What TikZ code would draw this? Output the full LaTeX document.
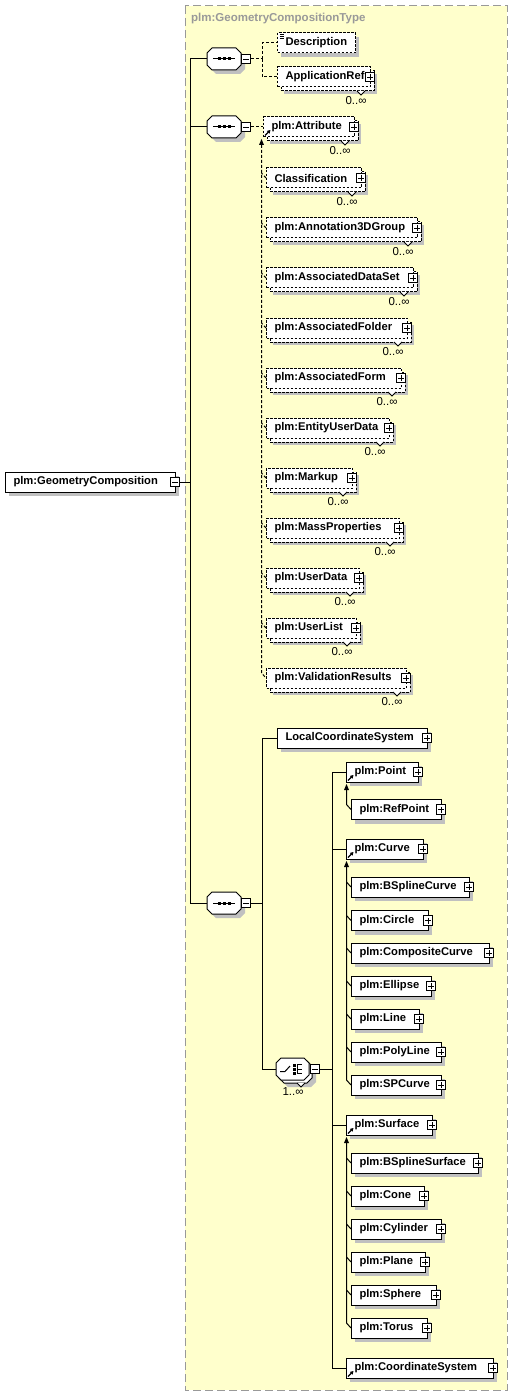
\documentclass[tikz,border=0pt]{standalone}
\usepackage{fontspec}
\setmainfont{Liberation Sans}
\usetikzlibrary{arrows.meta}
\definecolor{typebg}{HTML}{FFFFCC}
\definecolor{typeborder}{HTML}{999999}
\definecolor{shadowc}{HTML}{C0C0C0}
\definecolor{titlec}{HTML}{999999}
\tikzset{
 every node/.style={font=\fontsize{11}{13}\selectfont},
 elbox/.style={draw, fill=white, line width=1pt, minimum height=20pt, inner sep=0pt, anchor=west, font=\fontsize{11.2}{13}\selectfont\bfseries},
 optb/.style={dash pattern=on 2.5pt off 1.5pt},
 conn/.style={line width=1pt},
 dconn/.style={line width=1pt, dash pattern=on 3pt off 2pt},
 occ/.style={font=\fontsize{11.5}{13}\selectfont, inner sep=0pt},
 pm/.style={draw, fill=white, line width=0.8pt, minimum size=9.5pt, inner sep=0pt},
 anchorbox/.style={inner sep=0pt, draw=none},
}
\newcommand\oct[2]{(#1+5,#2-11) -- (#1+29,#2-11) -- (#1+34,#2-6) -- (#1+34,#2+6) -- (#1+29,#2+11) -- (#1+5,#2+11) -- (#1,#2+6) -- (#1,#2-6) -- cycle}
\newcommand\octc[2]{(#1+5,#2-11) -- (#1+28,#2-11) -- (#1+33,#2-6) -- (#1+33,#2+6) -- (#1+28,#2+11) -- (#1+5,#2+11) -- (#1,#2+6) -- (#1,#2-6) -- cycle}
% plus box: name, x, y
\newcommand\plusbx[3]{%
 \node[pm] (#1) at (#2,#3) {};
 \draw[line width=0.9pt] (#2-3,#3) -- (#2+3,#3) (#2,#3-3) -- (#2,#3+3);}
\newcommand\minusbx[3]{%
 \node[pm] (#1) at (#2,#3) {};
 \draw[line width=0.9pt] (#2-3,#3) -- (#2+3,#3);}
% single element: name, x1, yc, w, text, style
\newcommand\ElemS[6]{%
 \fill[shadowc] (#2+4,#3-6) rectangle (#2+#4+4,#3+14);
 \node[elbox,#6,minimum width=#4pt] (#1) at (#2,#3) {\hbox to #4pt{\hskip8pt #5\hss}};
 \plusbx{#1p}{#2+#4}{#3}}
% multiple element: name, x1, yc, w, text, style, occurrence label
\newcommand\ElemM[7]{%
 \fill[shadowc] (#2+7,#3-3) rectangle (#2+#4+7,#3+17);
 \draw[fill=white,line width=1pt,#6] (#2+4,#3-6) rectangle (#2+#4+4,#3+14);
 \draw[fill=white,line width=0.8pt] (#2+#4-13,#3+14) -- (#2+#4-9,#3+18) -- (#2+#4-5,#3+14);
 \node[elbox,#6,minimum width=#4pt] (#1) at (#2,#3) {\hbox to #4pt{\hskip8pt #5\hss}};
 \plusbx{#1p}{#2+#4}{#3}
 \node[occ] (#1o) at (#2+#4-14,#3+24) {#7};}
\newcommand\headicon[2]{\draw[line width=1.1pt,-{Triangle[length=3.2pt,width=3.6pt]}] (#1+2,#2+8.5) -- (#1+7.5,#2+3);}
% sequence: name, x, yc
\newcommand\Seq[3]{%
 \fill[shadowc,shift={(4,4)}] \oct{#2}{#3};
 \draw[fill=white,line width=1pt] \oct{#2}{#3};
 \node[anchorbox,minimum width=34pt,minimum height=22pt] (#1) at (#2+17,#3) {};
 \draw[line width=1pt] (#2+6,#3) -- (#2+28,#3);
 \fill (#2+10.5,#3-1.5) rectangle ++(3,3);
 \fill (#2+15.5,#3-1.5) rectangle ++(3,3);
 \fill (#2+20.5,#3-1.5) rectangle ++(3,3);
 \minusbx{#1m}{#2+39}{#3}}
% choice (stacked): name, x, yc
\newcommand\Choice[3]{%
 \fill[shadowc,shift={(7,7)}] \octc{#2}{#3};
 \draw[fill=white,line width=1pt,shift={(3,3)}] \octc{#2}{#3};
 \draw[fill=white,line width=0.8pt] (#2+21,#3+14) -- (#2+25,#3+18) -- (#2+29,#3+14);
 \draw[fill=white,line width=1pt] \octc{#2}{#3};
 \node[anchorbox,minimum width=33pt,minimum height=22pt] (#1) at (#2+16.5,#3) {};
 \draw[line width=1pt] (#2+4,#3+2.5) -- (#2+9,#3+2.5) -- (#2+14,#3-3);
 \fill (#2+16.5,#3-5.5) rectangle ++(3,3);
 \fill (#2+16.5,#3-1.5) rectangle ++(3,3);
 \fill (#2+16.5,#3+2.5) rectangle ++(3,3);
 \draw[line width=1pt] (#2+21,#3-5) -- (#2+21,#3+5);
 \draw[line width=1pt] (#2+21,#3-4.5) -- (#2+26,#3-4.5) (#2+21,#3) -- (#2+26,#3) (#2+21,#3+4.5) -- (#2+26,#3+4.5);
 \minusbx{#1m}{#2+39}{#3}}
\begin{document}
\begin{tikzpicture}[x=1pt,y=-1pt]
\useasboundingbox (0,0) rectangle (514,1396);
% complex type frame
\draw[fill=typebg, draw=typeborder, line width=1pt, dash pattern=on 8pt off 4pt] (185,6) rectangle (507,1390);
\node[anchor=west, text=titlec, inner sep=0pt, font=\fontsize{11.5}{13}\selectfont\bfseries] (title) at (191,19) {plm:GeometryCompositionType};
% root
\fill[shadowc] (9,476) rectangle (179,496);
\node[elbox, minimum width=170pt] (root) at (5,482) {\hbox to 170pt{\hskip8pt plm:GeometryComposition\hss}};
\minusbx{rootm}{175}{482}
% sequences
\Seq{seqA}{207}{59}
\Seq{seqB}{207}{127}
\Seq{seqC}{207}{903}
\coordinate (bus) at (190,482);
\draw[conn] (rootm.east) -- (bus);
\draw[conn] (seqA.west) -| (bus);
\draw[conn] (seqB.west) -| (bus);
\draw[conn] (seqC.west) -| (bus);
% sequence A children
\fill[shadowc] (281,37) rectangle (359,57);
\node[elbox,optb,minimum width=78pt] (desc) at (277,43) {\hbox to 78pt{\hskip8pt Description\hss}};
\draw[line width=0.7pt] (279.5,34) -- (283.5,34) (279.5,36) -- (283.5,36) (279.5,38) -- (283.5,38);
\ElemM{appref}{277}{77}{93}{ApplicationRef}{optb}{0..∞}
\coordinate (jA) at (262,59);
\draw[dconn] (seqAm.east) -- (jA);
\draw[dconn] (jA) |- (desc.west);
\draw[dconn] (jA) |- (appref.west);
% sequence B: substitution group plm:Attribute
\ElemM{attr}{263}{127}{91}{plm:Attribute}{optb}{0..∞}
\headicon{263}{127}
\draw[dconn] (seqBm.east) -- (attr.west);
\ElemM{cls}{266}{178}{95}{Classification}{optb}{0..∞}
\ElemM{ann}{266}{228}{151}{plm:Annotation3DGroup}{optb}{0..∞}
\ElemM{ads}{266}{278}{147}{plm:AssociatedDataSet}{optb}{0..∞}
\ElemM{afo}{266}{328}{141}{plm:AssociatedFolder}{optb}{0..∞}
\ElemM{afm}{266}{378}{135}{plm:AssociatedForm}{optb}{0..∞}
\ElemM{eud}{266}{428}{123}{plm:EntityUserData}{optb}{0..∞}
\ElemM{mku}{266}{478}{86}{plm:Markup}{optb}{0..∞}
\ElemM{mas}{266}{528}{133}{plm:MassProperties}{optb}{0..∞}
\ElemM{usd}{266}{578}{93}{plm:UserData}{optb}{0..∞}
\ElemM{usl}{266}{628}{90}{plm:UserList}{optb}{0..∞}
\ElemM{val}{266}{678}{140}{plm:ValidationResults}{optb}{0..∞}
\fill (261.5,139) -- (259,145) -- (264,145) -- cycle;
\coordinate (attrS) at (261.5,145);
\coordinate (attrE) at (261.5,673);
\draw[dconn] (attrS) -- (attrE) -- (val.west);
\foreach \n in {cls,ann,ads,afo,afm,eud,mku,mas,usd,usl}
  \draw[dconn] (\n.west) -- ++(-4.5,-5);
% sequence C
\ElemS{lcs}{277}{738}{150}{LocalCoordinateSystem}{}
\Choice{ch}{276}{1069}
\node[occ] (cho) at (293,1092) {1..∞};
\coordinate (jC) at (262,903);
\draw[conn] (seqCm.east) -- (jC);
\draw[conn] (jC) |- (lcs.west);
\draw[conn] (jC) |- (ch.west);
% choice children
\ElemS{pt}{346}{772}{72}{plm:Point}{}
\headicon{346}{772}
\ElemS{rpt}{351}{809.5}{90}{plm:RefPoint}{}
\ElemS{crv}{346}{849}{77}{plm:Curve}{}
\headicon{346}{849}
\ElemS{bsc}{351}{887}{118}{plm:BSplineCurve}{}
\ElemS{cir}{351}{920.5}{77}{plm:Circle}{}
\ElemS{cmp}{351}{953}{138}{plm:CompositeCurve}{}
\ElemS{ell}{351}{986}{80}{plm:Ellipse}{}
\ElemS{lin}{351}{1019}{68}{plm:Line}{}
\ElemS{ply}{351}{1052}{90}{plm:PolyLine}{}
\ElemS{spc}{351}{1085}{90}{plm:SPCurve}{}
\ElemS{srf}{346}{1125}{86}{plm:Surface}{}
\headicon{346}{1125}
\ElemS{bss}{351}{1163}{127}{plm:BSplineSurface}{}
\ElemS{con}{351}{1196}{73}{plm:Cone}{}
\ElemS{cyl}{351}{1229}{90}{plm:Cylinder}{}
\ElemS{pla}{351}{1262}{74}{plm:Plane}{}
\ElemS{sph}{351}{1295}{85}{plm:Sphere}{}
\ElemS{tor}{351}{1328}{76}{plm:Torus}{}
\ElemS{cs}{346}{1368}{147}{plm:CoordinateSystem}{}
\headicon{346}{1368}
\coordinate (jD) at (332,1069);
\draw[conn] (chm.east) -- (jD);
\draw[conn] (jD) |- (pt.west);
\draw[conn] (jD) |- (crv.west);
\draw[conn] (jD) |- (srf.west);
\draw[conn] (jD) |- (cs.west);
% substitution groups in the choice
\fill (346.5,784) -- (344,790) -- (349,790) -- cycle;
\coordinate (ptS) at (346.5,790);
\coordinate (ptE) at (346.5,804.5);
\draw[conn] (ptS) -- (ptE) -- (rpt.west);
\fill (346.5,861) -- (344,867) -- (349,867) -- cycle;
\coordinate (crvS) at (346.5,867);
\coordinate (crvE) at (346.5,1080);
\draw[conn] (crvS) -- (crvE) -- (spc.west);
\foreach \n in {bsc,cir,cmp,ell,lin,ply}
  \draw[conn] (\n.west) -- ++(-4.5,-5);
\fill (346.5,1137) -- (344,1143) -- (349,1143) -- cycle;
\coordinate (srfS) at (346.5,1143);
\coordinate (srfE) at (346.5,1323);
\draw[conn] (srfS) -- (srfE) -- (tor.west);
\foreach \n in {bss,con,cyl,pla,sph}
  \draw[conn] (\n.west) -- ++(-4.5,-5);
\end{tikzpicture}
\end{document}
